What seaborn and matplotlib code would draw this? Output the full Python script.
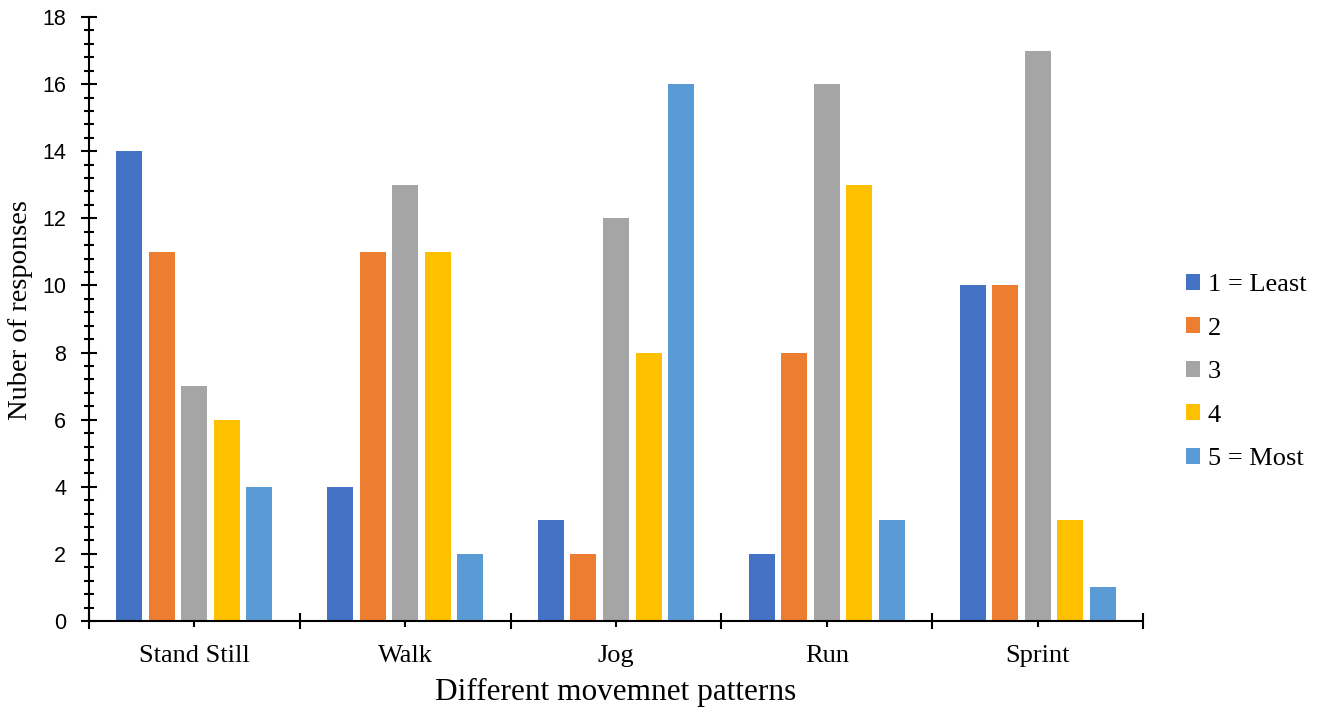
import matplotlib
matplotlib.use("Agg")
import matplotlib.pyplot as plt
from matplotlib.ticker import MultipleLocator, FixedLocator, NullFormatter
import seaborn as sns
import pandas as pd

categories = ["Stand Still", "Walk", "Jog", "Run", "Sprint"]
ratings = ["1 = Least", "2", "3", "4", "5 = Most"]
r1 = [14, 4, 3, 2, 10]
r2 = [11, 11, 2, 8, 10]
r3 = [7, 13, 12, 16, 17]
r4 = [6, 11, 8, 13, 3]
r5 = [4, 2, 16, 3, 1]
colors = ["#4472C4", "#ED7D31", "#A5A5A5", "#FFC000", "#5B9BD5"]

series = [r1, r2, r3, r4, r5]
rows = []
for rating, vals in zip(ratings, series):
    for cat, v in zip(categories, vals):
        rows.append({"pattern": cat, "rating": rating, "count": v})
df = pd.DataFrame(rows)

sns.set_theme(style="white")
serif = ["Liberation Serif", "DejaVu Serif"]
sans = ["Liberation Sans", "DejaVu Sans"]

fig = plt.figure(figsize=(13.2, 7.13), dpi=100)
ax = fig.add_axes([89/1320, 1 - 621/713, (1143-89)/1320, (621-17)/713])

sns.barplot(data=df, x="pattern", y="count", hue="rating", order=categories,
            hue_order=ratings, palette=colors, width=0.771, gap=0.2,
            saturation=1, linewidth=0, ax=ax)

ax.set_xlim(-0.5, 4.5)
ax.set_ylim(0, 18)
ax.yaxis.set_major_locator(MultipleLocator(2))
ax.yaxis.set_minor_locator(MultipleLocator(0.4))

ax.xaxis.set_major_locator(FixedLocator([-0.5, 0.5, 1.5, 2.5, 3.5, 4.5]))
ax.xaxis.set_major_formatter(NullFormatter())
ax.xaxis.set_minor_locator(FixedLocator(list(range(len(categories)))))
ax.set_xticks(list(range(len(categories))), categories, minor=True)

for s in ["top", "right"]:
    ax.spines[s].set_visible(False)
for s in ["left", "bottom"]:
    ax.spines[s].set_linewidth(1.5)
    ax.spines[s].set_color("black")

ax.tick_params(axis="y", which="major", direction="inout", length=11, width=1.5,
               color="black", left=True, pad=11, labelsize=15.5, labelcolor="black")
ax.tick_params(axis="y", which="minor", direction="inout", length=7.5, width=1.5,
               color="black", left=True)
ax.tick_params(axis="x", which="major", direction="inout", length=11, width=1.5,
               color="black", bottom=True)
ax.tick_params(axis="x", which="minor", direction="inout", length=9, width=1.5,
               color="black", bottom=True, pad=13, labelsize=19, labelcolor="black")
for lab in ax.get_yticklabels():
    lab.set_family(sans)
for lab in ax.get_xticklabels(minor=True):
    lab.set_family(serif)

ax.set_xlabel("Different movemnet patterns", family=serif, fontsize=22.5,
              color="black", labelpad=8)
ax.set_ylabel("Nuber of responses", family=serif, fontsize=20.5,
              color="black")
ax.yaxis.set_label_coords((33 - 89) / (1143 - 89), (621 - 310) / (621 - 17))

ax.legend(loc="center left", bbox_to_anchor=(1175/1320, 1 - 372/713),
          bbox_transform=fig.transFigure, frameon=False,
          prop={"family": serif, "size": 19}, handlelength=0.55,
          handleheight=0.55, handletextpad=0.3, labelspacing=0.8,
          borderaxespad=0, title=None, labelcolor="black")

fig.savefig("out.png", dpi=100)
